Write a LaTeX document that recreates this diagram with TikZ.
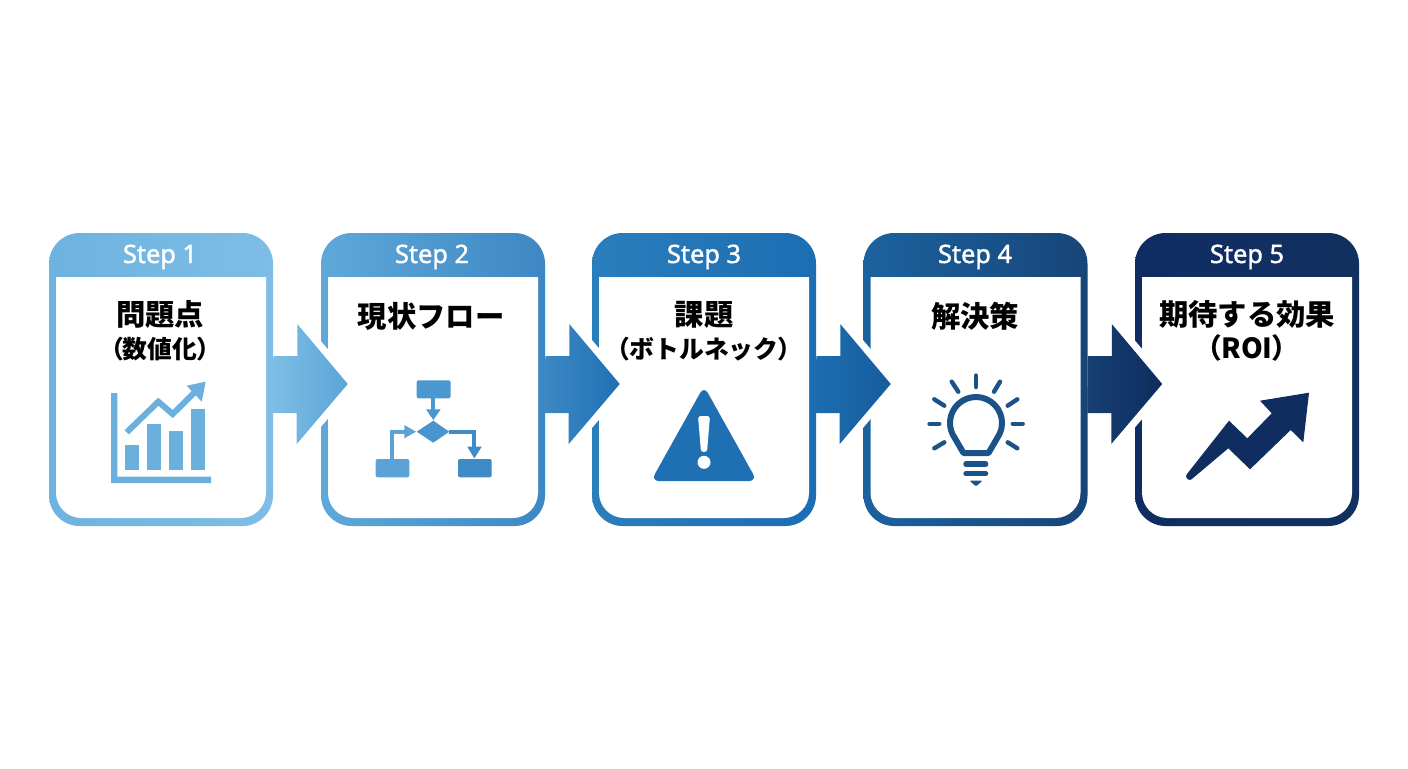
\documentclass[tikz,border=0pt]{standalone}
\usepackage{fontspec}
\setmainfont{Noto Sans}
\newfontfamily\stepfont[FakeBold=1.6]{Noto Sans}
\newfontfamily\cjk{Noto Sans CJK JP}
\newfontfamily\cjkp[RawFeature=+palt]{Noto Sans CJK JP}
\usetikzlibrary{calc}
\definecolor{blue1l}{HTML}{6DB3DF}
\definecolor{blue1r}{HTML}{7EBDE5}
\definecolor{blue2l}{HTML}{5FA8DA}
\definecolor{blue2r}{HTML}{3D88C4}
\definecolor{blue3l}{HTML}{2B7EBC}
\definecolor{blue3r}{HTML}{1C6DB2}
\definecolor{blue4l}{HTML}{1B629F}
\definecolor{blue4r}{HTML}{174578}
\definecolor{blue5l}{HTML}{0F2D62}
\definecolor{blue5r}{HTML}{12305F}
\definecolor{arrow1r}{HTML}{5AA5D8}
\definecolor{arrow2r}{HTML}{1F70B4}
\definecolor{arrow3r}{HTML}{175C9C}
\definecolor{arrow4l}{HTML}{163F72}
\definecolor{arrow4r}{HTML}{0F2C5E}
\definecolor{chartblue}{HTML}{6BB0DC}
\definecolor{flowtop}{HTML}{4B97CF}
\definecolor{flowleft}{HTML}{5BA3D7}
\definecolor{flowright}{HTML}{3F8BC6}
\definecolor{flowmid}{HTML}{4A95CD}
\definecolor{warnblue}{HTML}{1F6FB3}
\definecolor{bulbblue}{HTML}{1B5389}
\definecolor{roiblue}{HTML}{0F2D5F}
\newcommand{\subtitle}{\fontsize{18.6}{24.6}\selectfont}
\newcommand{\openparen}{{\cjkp\bfseries （}}
\newcommand{\closeparen}{{\cjkp\bfseries ）}}
\tikzset{
    cardbox/.style={inner sep=0pt,minimum width=168pt,minimum height=219.75pt,rounded corners=23pt},
    steplabel/.style={text=white,anchor=base,inner sep=0pt,font=\stepfont\fontsize{19}{22}\selectfont},
    titlelabel/.style={text=black,align=center,inner sep=0pt,font=\cjk\bfseries\fontsize{22}{24.6}\selectfont},
    flowarrow/.style={draw=none},
    halo/.style={draw=white,line width=11pt},
}

\begin{document}
\begin{tikzpicture}[x=0.75pt,y=-0.75pt]
    \useasboundingbox (0,0) rectangle (1408,768);
    \fill [white] (0,0) rectangle (1408,768);

    % cards
    \path (161,379.5)  node [cardbox,left color=blue1l,right color=blue1r] (c1) {};
    \path (433,379.5)  node [cardbox,left color=blue2l,right color=blue2r] (c2) {};
    \path (704,379.5)  node [cardbox,left color=blue3l,right color=blue3r] (c3) {};
    \path (975.5,379.5) node [cardbox,left color=blue4l,right color=blue4r] (c4) {};
    \path (1247,379.5) node [cardbox,left color=blue5l,right color=blue5r] (c5) {};

    \fill [white] (56,277) -- (266,277) [rounded corners=19pt] -- (266,518) -- (56,518) [sharp corners] -- cycle;
    \fill [white] (328,277) -- (538,277) [rounded corners=19pt] -- (538,518) -- (328,518) [sharp corners] -- cycle;
    \fill [white] (599,277) -- (809,277) [rounded corners=19pt] -- (809,518) -- (599,518) [sharp corners] -- cycle;
    \fill [white] (870.5,277) -- (1080.5,277) [rounded corners=19pt] -- (1080.5,518) -- (870.5,518) [sharp corners] -- cycle;
    \fill [white] (1142,277) -- (1352,277) [rounded corners=19pt] -- (1352,518) -- (1142,518) [sharp corners] -- cycle;

    \path (160,263)  node [steplabel] (s1) {Step 1};
    \path (432,263)  node [steplabel] (s2) {Step 2};
    \path (704,263)  node [steplabel] (s3) {Step 3};
    \path (975,263)  node [steplabel] (s4) {Step 4};
    \path (1247,263) node [steplabel] (s5) {Step 5};

    \path (160,331)  node [titlelabel] (t1) {問題点\\{\subtitle \openparen 数値化\closeparen}};
    \path (431,316)  node [titlelabel] (t2) {現状フロー};
    \path (704,331)  node [titlelabel] (t3) {課題\\{\subtitle \openparen ボトルネック\closeparen}};
    \path (975,316)  node [titlelabel] (t4) {解決策};
    \path (1247,331) node [titlelabel] (t5) {期待する効果\\{\fontsize{20.8}{24.6}\selectfont \openparen ROI\closeparen}};

    % arrows between the cards
    \draw [halo] ($(c2.west)+(-24,-55.5)$) -- ($(c2.west)+(27,4.5)$) -- ($(c2.west)+(-24,64.5)$);
    \draw [halo] ($(c3.west)+(-23,-55.5)$) -- ($(c3.west)+(28,4.5)$) -- ($(c3.west)+(-23,64.5)$);
    \draw [halo] ($(c4.west)+(-23.5,-55.5)$) -- ($(c4.west)+(27.5,4.5)$) -- ($(c4.west)+(-23.5,64.5)$);
    \draw [halo] ($(c5.west)+(-23.5,-55.5)$) -- ($(c5.west)+(27.5,4.5)$) -- ($(c5.west)+(-23.5,64.5)$);
    \path [flowarrow,left color=blue1r,right color=arrow1r] (c1.east) ++(0,-23.5) -- ++(24,0) -- ++(0,-32)
     -- ($(c2.west)+(27,4.5)$) -- ++(-51,60) -- ++(0,-31) -- ++(-24,0) -- cycle;
    \path [flowarrow,left color=blue2r,right color=arrow2r] (c2.east) ++(0,-23.5) -- ++(24,0) -- ++(0,-32)
     -- ($(c3.west)+(28,4.5)$) -- ++(-51,60) -- ++(0,-31) -- ++(-24,0) -- cycle;
    \path [flowarrow,left color=blue3r,right color=arrow3r] (c3.east) ++(0,-23.5) -- ++(24,0) -- ++(0,-32)
     -- ($(c4.west)+(27.5,4.5)$) -- ++(-51,60) -- ++(0,-31) -- ++(-24,0) -- cycle;
    \path [flowarrow,left color=arrow4l,right color=arrow4r] (c4.east) ++(0,-23.5) -- ++(24,0) -- ++(0,-32)
     -- ($(c5.west)+(27.5,4.5)$) -- ++(-51,60) -- ++(0,-31) -- ++(-24,0) -- cycle;

    % icon 1: chart
    \fill [chartblue] (111,393) -- (117.3,393) -- (117.3,476.7) -- (211,476.7) -- (211,483) -- (111,483) -- cycle;
    \fill [chartblue] (125,445) rectangle (139.3,470);
    \fill [chartblue] (146.7,424) rectangle (161,470);
    \fill [chartblue] (169,430.7) rectangle (183.3,470);
    \fill [chartblue] (190.7,409.3) rectangle (205,470);
    \draw [chartblue,line width=4.5pt] (126.7,432.3) -- (158.3,401.7) -- (172.7,414) -- (195,392);
    \fill [chartblue] (205.7,381.7) -- (186.7,385.7) -- (201.7,401.7) -- cycle;

    % icon 2: flow chart
    \fill [flowtop,rounded corners=1.5pt] (416.7,380.3) rectangle (450.7,398.3);
    \fill [flowleft,rounded corners=1.5pt] (375.7,459) rectangle (409.3,477.3);
    \fill [flowright,rounded corners=1.5pt] (458,459) rectangle (491.7,477.3);
    \fill [flowmid] (416.7,431.7) -- (433.3,420.7) -- (449.3,431.7) -- (433.3,442.7) -- cycle;
    \draw [flowtop,line width=3pt] (433.3,398.3) -- (433.3,411);
    \fill [flowtop] (426,409.3) -- (440.7,409.3) -- (433.3,420) -- cycle;
    \draw [flowleft,line width=3pt] (391.7,459) -- (391.7,431.7) -- (405,431.7);
    \fill [flowleft] (404.3,425) -- (416,431.7) -- (404.3,438.3) -- cycle;
    \draw [flowright,line width=3pt] (449.3,431.7) -- (474.3,431.7) -- (474.3,447.5);
    \fill [flowright] (467.3,446.7) -- (481.7,446.7) -- (474.3,458.3) -- cycle;

    % icon 3: warning
    \fill [warnblue,rounded corners=6pt] (704,386) -- (757,481) -- (651,481) -- cycle;
    \fill [white,rounded corners=2pt] (698,416) -- (710,416) -- (707,452) -- (701,452) -- cycle;
    \fill [white] (704,462.3) circle [radius=6.5];

    % icon 4: light bulb
    \draw [bulbblue,line width=4.5pt,line join=round] (997.3,437.9) arc [start angle=-35,end angle=215,radius=19.5pt]
     -- (963.5,453) -- (988.5,453) -- cycle;
    \draw [bulbblue,line width=3.3pt,line cap=round] (976,375.5) -- (976,387);
    \draw [bulbblue,line width=3.3pt,line cap=round] (951.7,381.7) -- (958.3,391.7);
    \draw [bulbblue,line width=3.3pt,line cap=round] (1000,381.7) -- (994,391.7);
    \draw [bulbblue,line width=3.3pt,line cap=round] (934.3,399.3) -- (944.3,405.7);
    \draw [bulbblue,line width=3.3pt,line cap=round] (1017.3,399.3) -- (1007.7,405.7);
    \draw [bulbblue,line width=3.3pt,line cap=round] (929.5,423.7) -- (939.3,423.7);
    \draw [bulbblue,line width=3.3pt,line cap=round] (1012.7,423.7) -- (1022.7,423.7);
    \draw [bulbblue,line width=3.3pt,line cap=round] (934.3,448.3) -- (944.3,442.3);
    \draw [bulbblue,line width=3.3pt,line cap=round] (1017.3,448.3) -- (1007.7,442.3);
    \draw [bulbblue,line width=3.8pt,line cap=round] (965.8,464) -- (985.8,464);
    \draw [bulbblue,line width=3.8pt,line cap=round] (965.8,473.7) -- (985.8,473.7);
    \fill [bulbblue,rounded corners=1pt] (969.3,480.5) -- (982.7,480.5) -- (976,486.5) -- cycle;

    % icon 5: rising arrow
    \fill [roiblue] (1229,420.7) -- (1247.3,438.3) -- (1271.7,413.3) -- (1260,400.7) -- (1309,392.7)
     -- (1303.3,442.3) -- (1290.7,430) -- (1250,469.3) -- (1228.3,448.3) [rounded corners=2pt] -- (1189.5,481) -- (1185,476.5)
     [sharp corners] -- cycle;
\end{tikzpicture}
\end{document}
